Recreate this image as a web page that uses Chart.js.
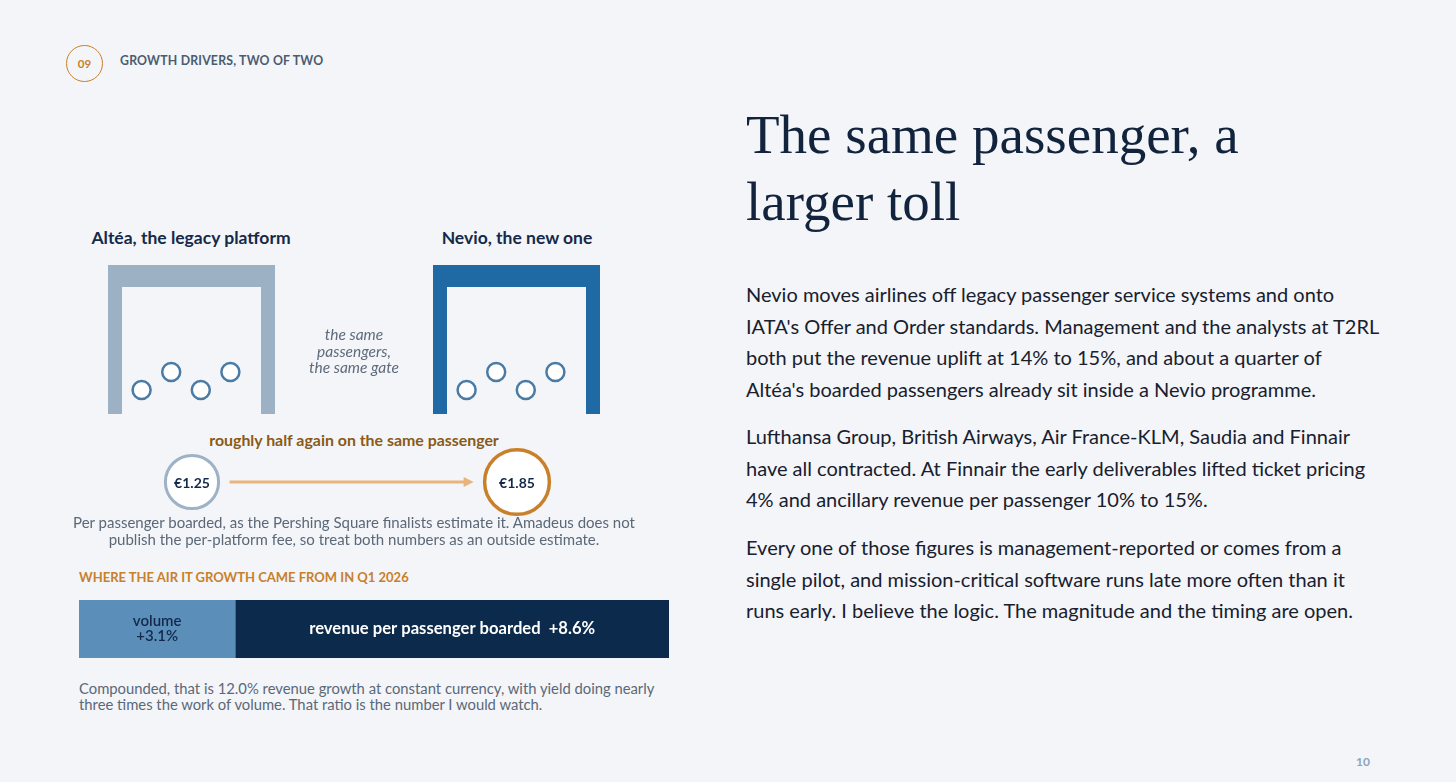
<!DOCTYPE html>
<html>
<head>
<meta charset="utf-8">
<script src="https://cdn.jsdelivr.net/npm/chart.js"></script>
<style>
  body { margin: 0; width: 1456px; height: 782px; background: #f3f5f8; position: relative; overflow: hidden; font-family: Lato, sans-serif; }
  .abs { position: absolute; white-space: nowrap; }
  canvas { position: absolute; }
  .badge { left: 66px; top: 45px; width: 35px; height: 35px; border: 1.5px solid #c8802a; border-radius: 50%; color: #c8802a; font-weight: bold; font-size: 11.5px; line-height: 35px; text-align: center; }
  .kicker { left: 120px; top: 53px; font-size: 12.3px; line-height: 16px; font-weight: bold; color: #4b5b70; letter-spacing: 0.2px; }
  .gate-title { top: 228px; width: 300px; text-align: center; font-size: 17.5px; line-height: 20px; font-weight: bold; color: #15294a; }
  .gate { top: 265px; width: 167px; height: 149px; box-sizing: border-box; border: 14px solid; border-top-width: 22px; border-bottom: 0; }
  .same { left: 254px; top: 326px; width: 200px; text-align: center; font-style: italic; font-size: 15.5px; line-height: 16.5px; color: #5f6b7c; }
  .half { left: 154px; top: 430px; width: 400px; text-align: center; font-size: 15.9px; line-height: 20px; font-weight: bold; color: #8a5a16; }
  .note { left: 54px; top: 514px; width: 600px; text-align: center; font-size: 15px; line-height: 17px; color: #5b6878; }
  .where { left: 79px; top: 569px; font-size: 13px; line-height: 16px; font-weight: bold; color: #c8802a; }
  .comp { left: 79px; top: 680px; font-size: 14.8px; line-height: 16px; color: #5b6878; }
  .title { left: 746px; top: 101px; font-family: 'Liberation Serif', serif; font-size: 55px; line-height: 67px; color: #12243d; }
  .body { left: 746px; font-size: 20px; line-height: 31.5px; color: #18202e; }
  .page { left: 1356px; top: 754px; font-size: 12px; line-height: 16px; font-weight: bold; color: #8fa3b8; }
</style>
</head>
<body>
<div class="abs badge">09</div>
<div class="abs kicker">GROWTH DRIVERS, TWO OF TWO</div>

<div class="abs gate-title" id="t0" style="left:41px"></div>
<div class="abs gate-title" id="t1" style="left:367px"></div>
<div class="abs gate" style="left:108px; border-color:#9cb1c4"></div>
<div class="abs gate" style="left:433px; border-color:#1f6aa4"></div>
<canvas id="pax0" width="148" height="54" style="left:112px; top:354px"></canvas>
<canvas id="pax1" width="148" height="54" style="left:437px; top:354px"></canvas>
<div class="abs same">the same<br>passengers,<br>the same gate</div>

<div class="abs half">roughly half again on the same passenger</div>
<canvas id="fees" width="455" height="76" style="left:127px; top:444px"></canvas>
<div class="abs note">Per passenger boarded, as the Pershing Square finalists estimate it. Amadeus does not<br>publish the per-platform fee, so treat both numbers as an outside estimate.</div>

<div class="abs where">WHERE THE AIR IT GROWTH CAME FROM IN Q1 2026</div>
<canvas id="growth" width="590" height="58" style="left:79px; top:600px"></canvas>
<div class="abs comp">Compounded, that is 12.0% revenue growth at constant currency, with yield doing nearly<br>three times the work of volume. That ratio is the number I would watch.</div>

<div class="abs title">The same passenger, a<br>larger toll</div>
<div class="abs body" style="top:279px">Nevio moves airlines off legacy passenger service systems and onto<br>IATA's Offer and Order standards. Management and the analysts at T2RL<br>both put the revenue uplift at 14% to 15%, and about a quarter of<br>Altéa's boarded passengers already sit inside a Nevio programme.</div>
<div class="abs body" style="top:421px">Lufthansa Group, British Airways, Air France-KLM, Saudia and Finnair<br>have all contracted. At Finnair the early deliverables lifted ticket pricing<br>4% and ancillary revenue per passenger 10% to 15%.</div>
<div class="abs body" style="top:532px">Every one of those figures is management-reported or comes from a<br>single pilot, and mission-critical software runs late more often than it<br>runs early. I believe the logic. The magnitude and the timing are open.</div>
<div class="abs page">10</div>

<script>
// DATA
const platforms = ['Altéa, the legacy platform', 'Nevio, the new one'];
const feePerPassenger = [1.25, 1.85];
const passengerSlots = [1, 2, 3, 4];
const passengerRows = [0, 1, 0, 1];
const growthParts = ['volume', 'revenue per passenger boarded'];
const growthValues = [3.1, 8.6];

Chart.defaults.font.family = "Lato, sans-serif";
Chart.defaults.animation = false;
Chart.defaults.plugins.legend.display = false;
Chart.defaults.plugins.tooltip.enabled = false;

document.getElementById('t0').textContent = platforms[0];
document.getElementById('t1').textContent = platforms[1];

// PASSENGERS INSIDE EACH GATE
['pax0', 'pax1'].forEach(id => {
    new Chart(document.getElementById(id), {
        type: 'scatter',
        data: {
            datasets: [{
                data: passengerSlots.map((s, i) => ({ x: s, y: passengerRows[i] })),
                pointRadius: 9,
                pointBorderWidth: 2.5,
                pointBackgroundColor: '#ffffff',
                pointBorderColor: '#4a7ba5',
                clip: false
            }]
        },
        options: {
            responsive: false,
            layout: { padding: 0, autoPadding: false },
            scales: {
                x: { type: 'linear', min: 0, max: 5, display: false },
                y: { min: -1, max: 2, display: false }
            }
        }
    });
});

// FEE BUBBLES WITH ARROW
const feeArrow = {
    id: 'feeArrow',
    afterDatasetsDraw(chart) {
        const ctx = chart.ctx;
        const pts = chart.getDatasetMeta(0).data;
        const a = pts[0], b = pts[1];
        const x0 = a.x + a.options.radius + 11;
        const x1 = b.x - b.options.radius - 11;
        const y = a.y;
        ctx.save();
        ctx.strokeStyle = '#e8b47c';
        ctx.fillStyle = '#e8b47c';
        ctx.lineWidth = 3;
        ctx.beginPath();
        ctx.moveTo(x0, y);
        ctx.lineTo(x1 - 8, y);
        ctx.stroke();
        ctx.beginPath();
        ctx.moveTo(x1, y);
        ctx.lineTo(x1 - 10, y - 5);
        ctx.lineTo(x1 - 10, y + 5);
        ctx.closePath();
        ctx.fill();
        ctx.font = 'bold 14px Lato, sans-serif';
        ctx.fillStyle = '#13294b';
        ctx.textAlign = 'center';
        ctx.textBaseline = 'middle';
        pts.forEach((p, i) => ctx.fillText('€' + feePerPassenger[i].toFixed(2), p.x, p.y + 1));
        ctx.restore();
    }
};

new Chart(document.getElementById('fees'), {
    type: 'bubble',
    data: {
        datasets: [{
            data: feePerPassenger.map((f, i) => ({ x: i, y: 0, r: 23.8 * Math.sqrt(f) })),
            backgroundColor: '#ffffff',
            borderColor: ['#9db2c6', '#c8802a'],
            borderWidth: [3, 3.5],
            clip: false
        }]
    },
    options: {
        responsive: false,
        layout: { padding: 0, autoPadding: false },
        scales: {
            x: { type: 'linear', min: -0.2, max: 1.2, display: false },
            y: { min: -1, max: 1, display: false }
        }
    },
    plugins: [feeArrow]
});

// GROWTH SPLIT BAR
const barLabels = {
    id: 'barLabels',
    afterDatasetsDraw(chart) {
        const ctx = chart.ctx;
        ctx.save();
        ctx.textAlign = 'center';
        ctx.textBaseline = 'middle';
        chart.data.datasets.forEach((ds, i) => {
            const bar = chart.getDatasetMeta(i).data[0];
            const cx = (bar.x + bar.base) / 2;
            const w = Math.abs(bar.x - bar.base);
            const val = '+' + growthValues[i].toFixed(1) + '%';
            if (w < 200) {
                ctx.font = '600 15px Lato, sans-serif';
                ctx.fillStyle = '#13294b';
                ctx.fillText(growthParts[i], cx, bar.y - 8);
                ctx.fillText(val, cx, bar.y + 7);
            } else {
                ctx.font = 'bold 16.6px Lato, sans-serif';
                ctx.fillStyle = '#ffffff';
                ctx.fillText(growthParts[i] + '  ' + val, cx, bar.y);
            }
        });
        ctx.restore();
    }
};

const barColors = ['#5b8fb9', '#0c2a4c'];
new Chart(document.getElementById('growth'), {
    type: 'bar',
    data: {
        labels: ['Q1 2026'],
        datasets: growthParts.map((p, i) => ({
            label: p,
            data: [growthValues[i]],
            backgroundColor: barColors[i],
            borderWidth: 0,
            barPercentage: 1,
            categoryPercentage: 1
        }))
    },
    options: {
        responsive: false,
        indexAxis: 'y',
        layout: { padding: 0 },
        scales: {
            x: { stacked: true, min: 0, max: growthValues.reduce((a, b) => a + b, 0), display: false },
            y: { stacked: true, display: false }
        }
    },
    plugins: [barLabels]
});
</script>
</body>
</html>
